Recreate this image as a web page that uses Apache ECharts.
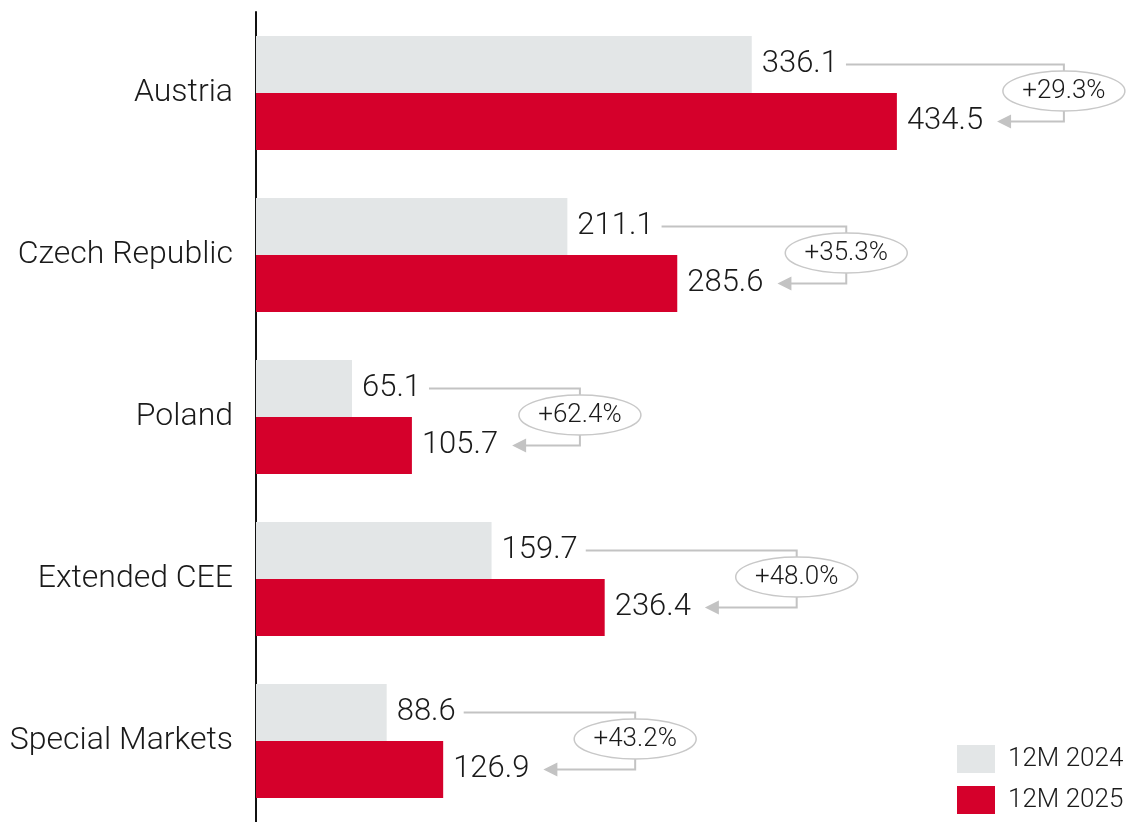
<!DOCTYPE html>
<html>
<head>
<meta charset="utf-8">
<script src="https://cdn.jsdelivr.net/npm/echarts@6/dist/echarts.min.js"></script>
<style>
    html, body { margin: 0; padding: 0; background: #fff; }
    #chart { width: 1128px; height: 822px; }
</style>
</head>
<body>
<div id="chart"></div>
<script>
// data
const categories = ['Austria', 'Czech Republic', 'Poland', 'Extended CEE', 'Special Markets'];
const values2024 = [336.1, 211.1, 65.1, 159.7, 88.6];
const values2025 = [434.5, 285.6, 105.7, 236.4, 126.9];
const changes = ['+29.3%', '+35.3%', '+62.4%', '+48.0%', '+43.2%'];

// styling for the change brackets (px past the 2025 bar end)
const bracketOffset = [167, 169, 168, 192, 192];

const FONT = 'Roboto';
const GREY = '#e3e6e7';
const RED = '#d5002b';
const LINE = '#c3c3c3';
const BAR_W = 57;
const NUM_SIZE = 31;

const ctx = document.createElement('canvas').getContext('2d');
function textWidth(str, size) {
    ctx.font = '300 ' + size + 'px ' + FONT;
    return ctx.measureText(str).width;
}

const chart = echarts.init(document.getElementById('chart'));

function renderBracket(params, api) {
    const i = api.value(0);
    const v24 = api.value(1);
    const v25 = api.value(2);
    const center = api.coord([0, i]);
    const y24 = center[1] - BAR_W / 2;
    const y25 = center[1] + BAR_W / 2;
    const end24 = api.coord([v24, i])[0];
    const end25 = api.coord([v25, i])[0];
    const lineStart = end24 + 10 + textWidth(String(v24), NUM_SIZE) + 8;
    const tip = end25 + 10 + textWidth(String(v25), NUM_SIZE) + 14;
    const vx = end25 + bracketOffset[i];
    return {
        type: 'group',
        children: [
            {
                type: 'polyline',
                shape: { points: [[lineStart, y24], [vx, y24], [vx, y25], [tip + 12, y25]] },
                style: { stroke: LINE, lineWidth: 2, fill: null }
            },
            {
                type: 'polygon',
                shape: { points: [[tip, y25], [tip + 14, y25 - 7], [tip + 14, y25 + 7]] },
                style: { fill: LINE }
            },
            {
                type: 'ellipse',
                shape: { cx: vx, cy: center[1] - 2, rx: 61, ry: 20 },
                style: { fill: '#fff', stroke: '#c8c8c8', lineWidth: 1.5 }
            },
            {
                type: 'text',
                x: vx,
                y: center[1] - 2,
                style: {
                    text: changes[i],
                    fill: '#1a1a1a',
                    font: '300 26px ' + FONT,
                    align: 'center',
                    verticalAlign: 'middle'
                }
            }
        ]
    };
}

const option = {
    animation: false,
    textStyle: { fontFamily: FONT },
    grid: { left: 256, top: 12, width: 737.5, height: 814 },
    legend: {
        data: ['12M 2024', '12M 2025'],
        orient: 'vertical',
        left: 957,
        top: 745,
        padding: 0,
        itemWidth: 38,
        itemHeight: 28,
        itemGap: 13,
        selectedMode: false,
        icon: 'rect',
        textStyle: { fontSize: 26, fontWeight: 300, color: '#1a1a1a', padding: [0, 0, 0, 8] }
    },
    xAxis: {
        type: 'value',
        min: 0,
        max: 500,
        show: false
    },
    yAxis: {
        type: 'category',
        data: categories,
        inverse: true,
        axisLine: { lineStyle: { color: '#111', width: 2 } },
        axisTick: { show: false },
        axisLabel: { fontSize: 32, fontWeight: 300, color: '#1a1a1a', margin: 23 }
    },
    series: [
        {
            name: '12M 2024',
            type: 'bar',
            data: values2024,
            barWidth: BAR_W,
            barGap: 0,
            itemStyle: { color: GREY },
            label: { show: true, position: 'right', distance: 10, fontSize: NUM_SIZE, fontWeight: 300, color: '#1a1a1a' }
        },
        {
            name: '12M 2025',
            type: 'bar',
            data: values2025,
            barWidth: BAR_W,
            barGap: 0,
            itemStyle: { color: RED },
            label: { show: true, position: 'right', distance: 10, fontSize: NUM_SIZE, fontWeight: 300, color: '#1a1a1a' }
        },
        {
            type: 'custom',
            renderItem: renderBracket,
            clip: false,
            silent: true,
            encode: { x: [1, 2], y: 0 },
            data: categories.map((c, i) => [i, values2024[i], values2025[i]]),
            z: 5
        }
    ]
};

chart.setOption(option);
</script>
</body>
</html>
